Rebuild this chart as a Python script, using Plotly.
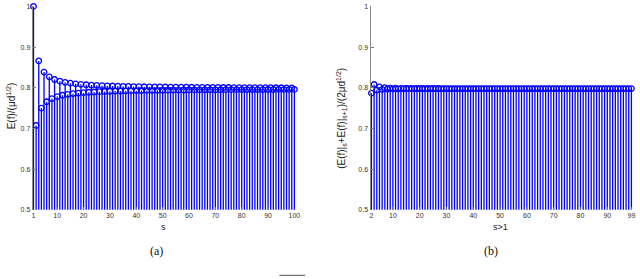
import plotly.graph_objects as go

# ---- data ----
s_left = list(range(1, 101))
v_left = [
    1.0000, 0.7071, 0.8660, 0.7500, 0.8385, 0.7655, 0.8268, 0.7734, 0.8203, 0.7782,
    0.8162, 0.7815, 0.8134, 0.7838, 0.8113, 0.7855, 0.8097, 0.7869, 0.8085, 0.7880,
    0.8074, 0.7889, 0.8066, 0.7896, 0.8059, 0.7903, 0.8053, 0.7908, 0.8048, 0.7913,
    0.8043, 0.7917, 0.8040, 0.7920, 0.8036, 0.7924, 0.8033, 0.7927, 0.8030, 0.7929,
    0.8028, 0.7932, 0.8025, 0.7934, 0.8023, 0.7936, 0.8021, 0.7937, 0.8020, 0.7939,
    0.8018, 0.7941, 0.8017, 0.7942, 0.8015, 0.7943, 0.8014, 0.7945, 0.8013, 0.7946,
    0.8012, 0.7947, 0.8011, 0.7948, 0.8010, 0.7949, 0.8009, 0.7950, 0.8008, 0.7950,
    0.8007, 0.7951, 0.8006, 0.7952, 0.8006, 0.7953, 0.8005, 0.7953, 0.8004, 0.7954,
    0.8004, 0.7955, 0.8003, 0.7955, 0.8002, 0.7956, 0.8002, 0.7956, 0.8001, 0.7957,
    0.8001, 0.7957, 0.8000, 0.7958, 0.8000, 0.7958, 0.7999, 0.7958, 0.7999, 0.7959,
]

s_right = list(range(2, 100))
v_right = [
    0.7866, 0.8080, 0.7943, 0.8020, 0.7961, 0.8001, 0.7969, 0.7993, 0.7972,
    0.7988, 0.7974, 0.7986, 0.7975, 0.7984, 0.7976, 0.7983, 0.7977, 0.7982, 0.7977,
    0.7982, 0.7977, 0.7981, 0.7978, 0.7981, 0.7978, 0.7981, 0.7978, 0.7980, 0.7978,
    0.7980, 0.7978, 0.7980, 0.7978, 0.7980, 0.7978, 0.7980, 0.7978, 0.7980, 0.7978,
    0.7980, 0.7979, 0.7980, 0.7979, 0.7980, 0.7979, 0.7979, 0.7979, 0.7979, 0.7979,
    0.7979, 0.7979, 0.7979, 0.7979, 0.7979, 0.7979, 0.7979, 0.7979, 0.7979, 0.7979,
    0.7979, 0.7979, 0.7979, 0.7979, 0.7979, 0.7979, 0.7979, 0.7979, 0.7979, 0.7979,
    0.7979, 0.7979, 0.7979, 0.7979, 0.7979, 0.7979, 0.7979, 0.7979, 0.7979, 0.7979,
    0.7979, 0.7979, 0.7979, 0.7979, 0.7979, 0.7979, 0.7979, 0.7979, 0.7979, 0.7979,
    0.7979, 0.7979, 0.7979, 0.7979, 0.7979, 0.7979, 0.7979, 0.7979, 0.7979,
]

y_ticks = [0.5, 0.6, 0.7, 0.8, 0.9, 1.0]
y_tick_text = ["0.5", "0.6", "0.7", "0.8", "0.9", "1"]
x_ticks_left = [1, 10, 20, 30, 40, 50, 60, 70, 80, 90, 100]
x_ticks_right = [2, 10, 20, 30, 40, 50, 60, 70, 80, 90, 99]

BLUE = "#0000ff"
W, H = 640, 279


def stem_xy(xs, ys):
    sx, sy = [], []
    for x, y in zip(xs, ys):
        sx += [x, x, None]
        sy += [0, y, None]
    return sx, sy


fig = go.Figure()
for xs, ys, xa, ya in [(s_left, v_left, "x", "y"), (s_right, v_right, "x2", "y2")]:
    sx, sy = stem_xy(xs, ys)
    fig.add_trace(go.Scatter(x=sx, y=sy, mode="lines", xaxis=xa, yaxis=ya,
                             line=dict(color=BLUE, width=1.3), hoverinfo="skip",
                             showlegend=False))
    fig.add_trace(go.Scatter(x=xs, y=ys, mode="markers", xaxis=xa, yaxis=ya,
                             marker=dict(symbol="circle-open", size=5.5,
                                         color=BLUE, line=dict(color=BLUE, width=1.3)),
                             cliponaxis=False, showlegend=False))

def px_x(p):
    return p / W

def px_y(p):
    return 1 - p / H

y_dom = [px_y(211), px_y(2.5)]
tickfont = dict(family="Liberation Sans, Arial, sans-serif", size=7, color="#333333")
axis_common = dict(showgrid=False, zeroline=False, ticks="inside", ticklen=3,
                   tickcolor="#777777", tickfont=tickfont, linecolor="#888888",
                   linewidth=1, ticklabeloverflow="allow")

fig.update_layout(
    width=W, height=H, margin=dict(l=0, r=0, t=0, b=0),
    paper_bgcolor="white", plot_bgcolor="white",
    xaxis=dict(domain=[px_x(32), px_x(297)], range=[0.7, 100.3], tickvals=x_ticks_left,
               anchor="y", showline=False, **axis_common),
    yaxis=dict(domain=y_dom, range=[0.5, 1.0], tickvals=y_ticks, ticktext=y_tick_text,
               anchor="x", showline=True, **axis_common),
    xaxis2=dict(domain=[px_x(373), px_x(638)], range=[1.65, 99.6], tickvals=x_ticks_right,
                anchor="y2", showline=False, **axis_common),
    yaxis2=dict(domain=y_dom, range=[0.5, 1.0], tickvals=y_ticks, ticktext=y_tick_text,
                anchor="x2", showline=True, **axis_common),
)

label_font = dict(family="Liberation Sans, Arial, sans-serif", size=9, color="#222222")
ylab_font = dict(family="Liberation Sans, Arial, sans-serif", size=10, color="#222222")
cap_font = dict(family="Liberation Serif, Times New Roman, serif", size=12, color="#111111")

anns = [
    dict(text="s", x=px_x(164), y=px_y(229), font=label_font),
    dict(text="s>1", x=px_x(504), y=px_y(229), font=label_font),
    dict(text="E(f)/(μd<sup>1/2</sup>)", x=px_x(10), y=px_y(104), font=ylab_font, textangle=-90),
    dict(text="(E(f)|<sub>s</sub>+E(f)|<sub>s+1</sub>)/(2μd<sup>1/2</sup>)", x=px_x(343),
         y=px_y(117), font=ylab_font, textangle=-90),
    dict(text="(a)", x=px_x(157), y=px_y(253), font=cap_font),
    dict(text="(b)", x=px_x(495), y=px_y(253), font=cap_font),
]
for a in anns:
    fig.add_annotation(xref="paper", yref="paper", showarrow=False,
                       xanchor="center", yanchor="middle", **a)

fig.add_shape(type="line", xref="paper", yref="paper",
              x0=px_x(281), x1=px_x(307), y0=px_y(278.3), y1=px_y(278.3),
              line=dict(color="#555555", width=1))

fig.write_html("out.html", config={"displayModeBar": False},
               post_script="document.body.style.margin='0';")
